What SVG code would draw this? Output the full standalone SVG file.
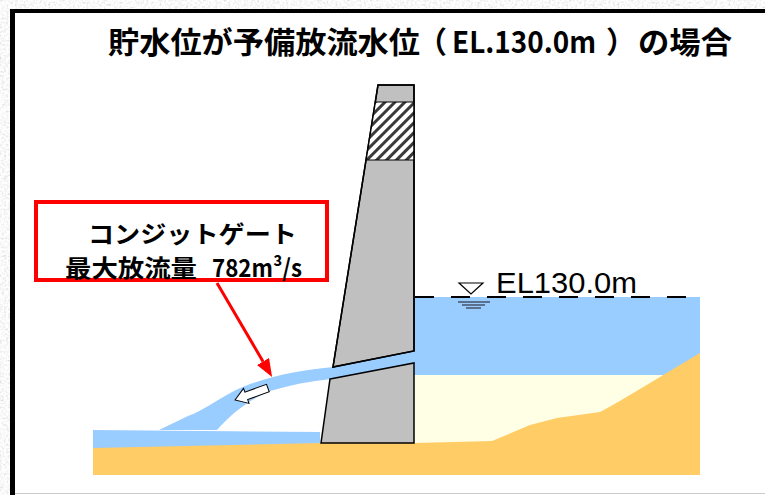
<svg xmlns="http://www.w3.org/2000/svg" width="765" height="495" viewBox="0 0 765 495">
  <defs>
    <filter id="grain" x="0" y="0" width="100%" height="100%">
      <feTurbulence type="fractalNoise" baseFrequency="0.45" numOctaves="2" seed="3"/>
      <feColorMatrix type="matrix" values="0.3 0.3 0.3 0 0.5  0.3 0.3 0.3 0 0.5  0.3 0.3 0.3 0 0.5  0 0 0 0 1"/>
    </filter>
    <pattern id="hatch" width="7" height="7" patternUnits="userSpaceOnUse" patternTransform="rotate(45)">
      <rect width="7" height="7" fill="#ffffff"/>
      <rect x="0" y="0" width="3" height="7" fill="#3a3a3a"/>
    </pattern>
    <marker id="redHead" markerUnits="userSpaceOnUse" markerWidth="18" markerHeight="14" refX="0" refY="7" orient="auto">
      <path d="M0,0 L18,7 L0,14 Z" fill="#ff0000"/>
    </marker>
    <style>
      .water { fill: #99ccff; }
      .ground { fill: #ffcc66; }
      .silt { fill: #ffffe6; }
      .concrete { fill: #c0c0c0; stroke: #000000; stroke-width: 1.5; stroke-linejoin: miter; }
      .jp { font-family: "Noto Sans CJK JP", "Noto Sans", sans-serif; font-weight: bold; fill: #000000; }
      .lat { font-family: "Liberation Sans", Arial, sans-serif; fill: #000000; }
    </style>
  </defs>

  <!-- page surround and frame -->
  <rect x="0" y="0" width="765" height="495" filter="url(#grain)"/>
  <rect x="10" y="9" width="755" height="486" fill="#000000"/>
  <rect x="15" y="13" width="750" height="482" fill="#ffffff"/>
  <line x1="15" y1="493.5" x2="765" y2="493.5" stroke="#cccccc" stroke-width="1"/>

  <!-- title -->
  <g id="title">
    <text class="jp" y="53" font-size="30"><tspan x="108" textLength="312" lengthAdjust="spacingAndGlyphs">貯水位が予備放流水位</tspan><tspan x="417">（</tspan><tspan x="452" textLength="144" lengthAdjust="spacingAndGlyphs">EL.130.0m</tspan><tspan x="606">）</tspan><tspan x="638" textLength="94" lengthAdjust="spacingAndGlyphs">の場合</tspan></text>
  </g>

  <!-- reservoir, sediment and foundation -->
  <g id="reservoir">
    <rect class="water" x="414" y="297" width="286" height="178"/>
    <rect class="silt" x="414" y="375" width="286" height="100"/>
  </g>
  <g id="downstream">
    <polygon class="water" points="93,430 320,432 320,445 93,449"/>
  </g>
  <g id="ground">
    <path class="ground" d="M93,448 L320,443 L415,443 L492,441 L530,425 L557,418 L600,412 C612,406 628,396 645,386 C665,374 683,363 700,353 L700,475 L93,475 Z"/>
  </g>

  <!-- discharge jet from the conduit -->
  <g id="jet">
    <polygon class="water" points="333,367 415,351 415,363 330,379"/>
    <path class="water" d="M334,367 C300,370 262,377 234,391 C215,401 202,411 188,416 L159,430 L217,430 C232,413 250,399 270,391 C290,385 310,381 331,379 Z"/>
    <polygon points="0,0 12,-8 12,-4 35,-4 35,4 12,4 12,8" transform="translate(235,400) rotate(-20)" fill="#ffffff" stroke="#000000" stroke-width="1"/>
  </g>

  <!-- dam body -->
  <g id="dam">
    <polygon class="concrete" points="378,85 414,85 414,351 333,367"/>
    <polygon points="375.3,102 414,102 414,160 366,160" fill="url(#hatch)"/>
    <line x1="375.3" y1="102" x2="414" y2="102" stroke="#000000" stroke-width="1.2"/>
    <line x1="366" y1="160" x2="414" y2="160" stroke="#000000" stroke-width="1.2"/>
    <polygon class="concrete" points="330,379 414,363 414,443 321,443"/>
    <polygon points="378,85 414,85 414,351 333,367" fill="none" stroke="#000000" stroke-width="1.5"/>
  </g>

  <!-- water level mark -->
  <g id="water-level">
    <line x1="415" y1="297" x2="690" y2="297" stroke="#000000" stroke-width="2" stroke-dasharray="19 17"/>
    <polygon points="459,283 483,283 471,294" fill="#ffffff" stroke="#000000" stroke-width="1.2"/>
    <line x1="458" y1="302" x2="490" y2="302" stroke="#333344" stroke-width="1.2"/>
    <line x1="462" y1="305" x2="485" y2="305" stroke="#333344" stroke-width="1.2"/>
    <line x1="466" y1="308" x2="481" y2="308" stroke="#333344" stroke-width="1.2"/>
    <text class="lat" x="496" y="293" font-size="29" textLength="141" lengthAdjust="spacingAndGlyphs">EL130.0m</text>
  </g>

  <!-- callout -->
  <g id="callout">
    <rect x="36" y="202" width="291" height="78" fill="#ffffff" stroke="#ff0000" stroke-width="4"/>
    <text class="jp" x="88" y="243" font-size="24" textLength="209" lengthAdjust="spacingAndGlyphs">コンジットゲート</text>
    <text class="jp" x="65" y="277" font-size="24" textLength="132" lengthAdjust="spacingAndGlyphs">最大放流量</text>
    <text class="jp" x="212" y="277" font-size="24" textLength="90" lengthAdjust="spacingAndGlyphs">782m³/s</text>
  </g>

  <g id="connectors">
    <line x1="217" y1="283" x2="263" y2="361.5" stroke="#ff0000" stroke-width="3" marker-end="url(#redHead)"/>
  </g>
</svg>
